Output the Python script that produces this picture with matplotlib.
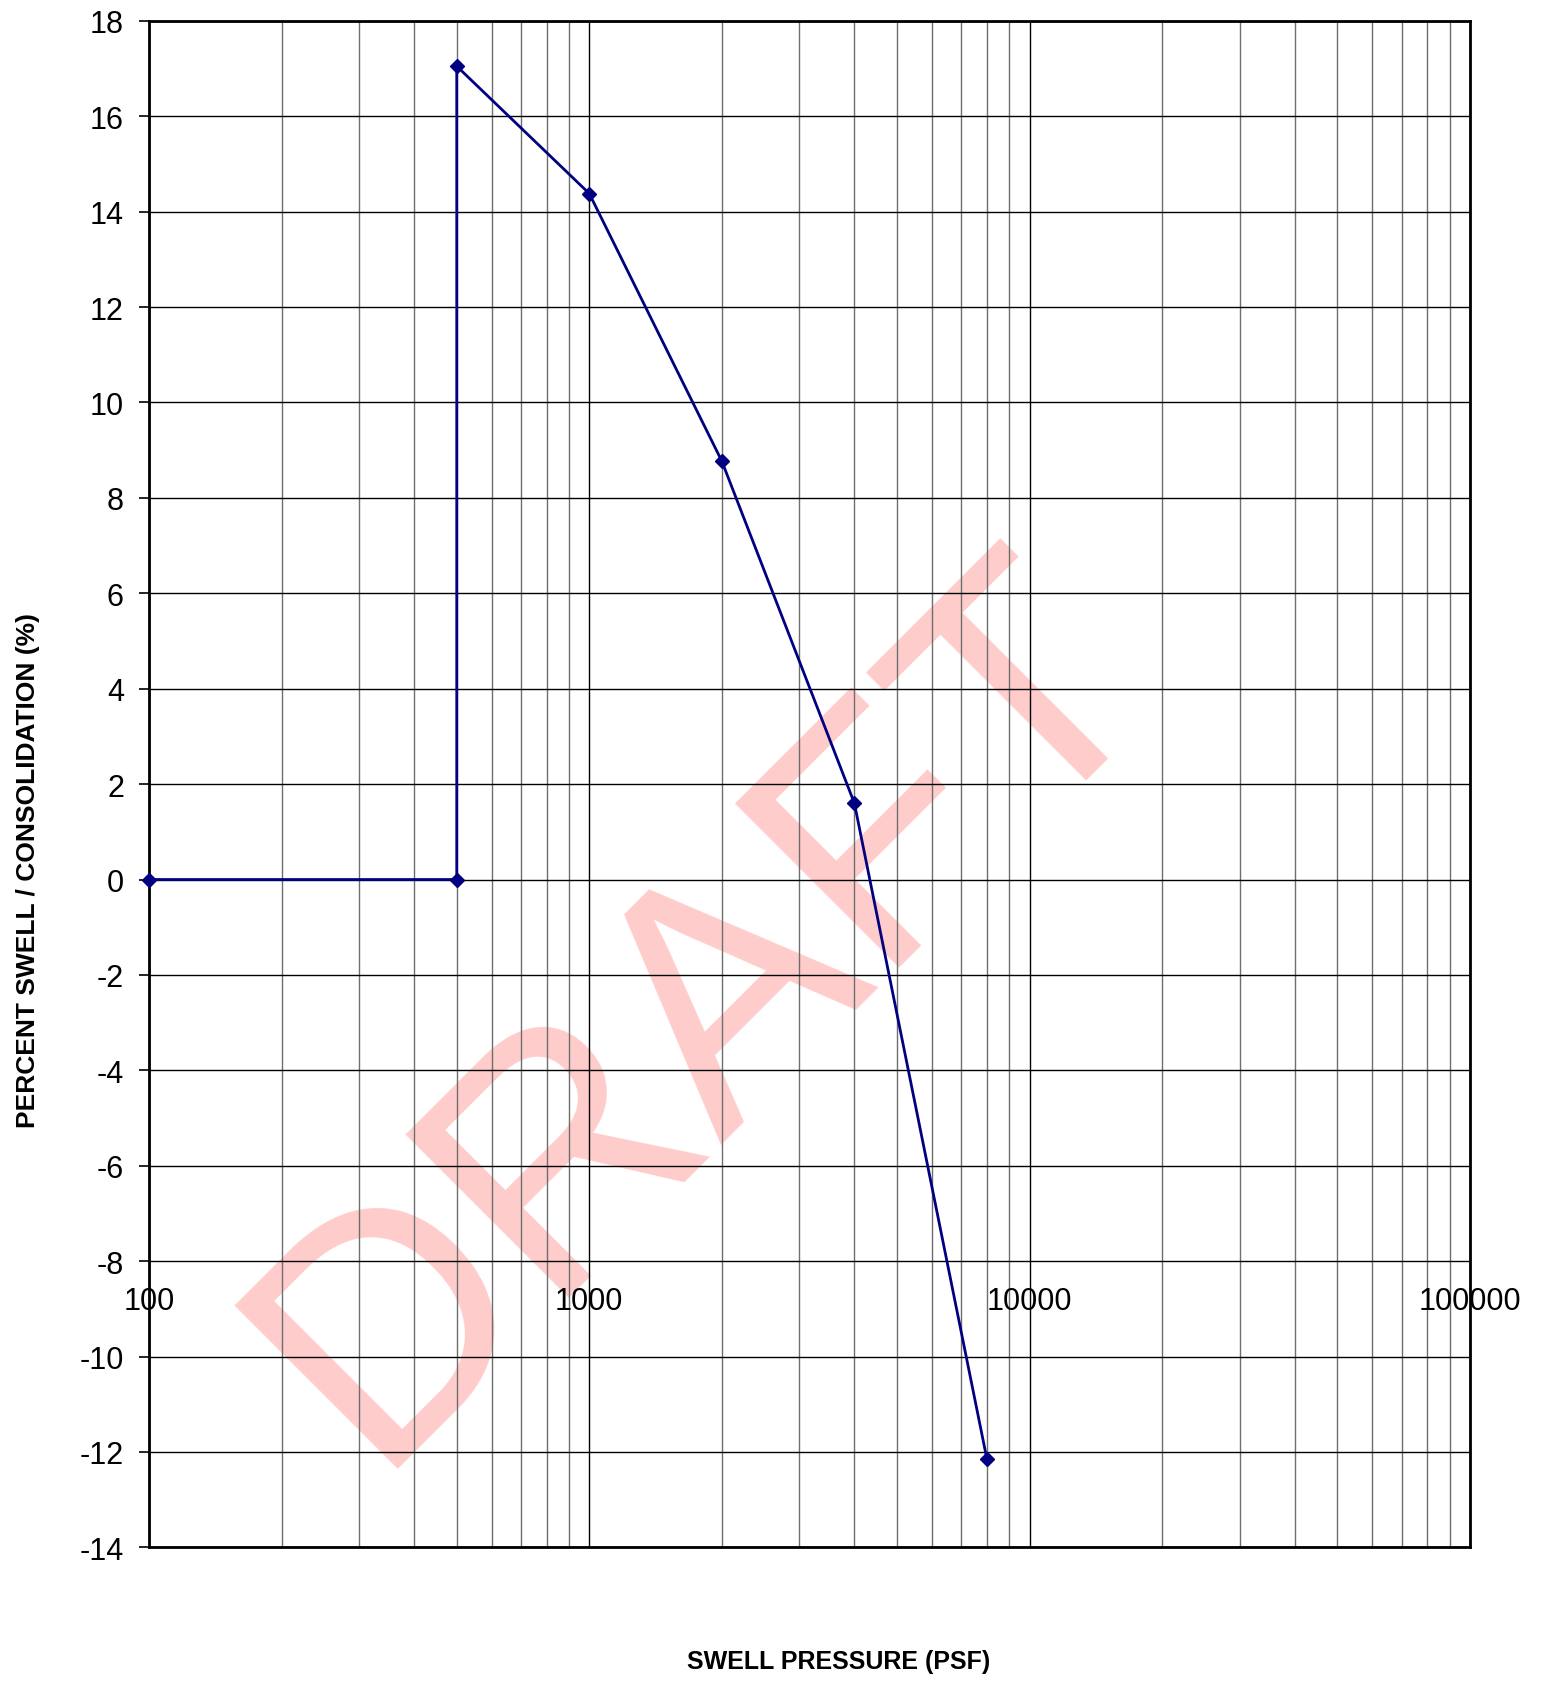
import numpy as np
import matplotlib
matplotlib.use("Agg")
import matplotlib.pyplot as plt
from matplotlib.ticker import LogLocator, NullFormatter, MultipleLocator

# ==================================================
# DATA
# ==================================================

pressure_psf = [100, 500, 500, 1000, 2000, 4000, 8000]
percent_swell = [0.0, 0.0, 17.05, 14.38, 8.77, 1.60, -12.15]

x_tick_values = [100, 1000, 10000, 100000]
x_tick_labels = ["100", "1000", "10000", "100000"]

y_min, y_max, y_step = -14, 18, 2
x_label_row = -8

X_LABEL = "SWELL PRESSURE (PSF)"
Y_LABEL = "PERCENT SWELL / CONSOLIDATION (%)"
WATERMARK = "DRAFT"

LINE_COLOR = "#000080"

plt.rcParams["axes.unicode_minus"] = False

# ==================================================
# FIGURE
# ==================================================

fig = plt.figure(figsize=(15.44, 16.83), dpi=100)
ax = fig.add_axes([0.0965, 0.080, 0.8555, 0.907])

ax.set_xscale("log")
ax.set_xlim(100, 100000)
ax.set_ylim(y_min, y_max)

# grid
ax.xaxis.set_major_locator(LogLocator(base=10))
ax.xaxis.set_minor_locator(LogLocator(base=10, subs=np.arange(2, 10)))
ax.xaxis.set_minor_formatter(NullFormatter())
ax.yaxis.set_major_locator(MultipleLocator(y_step))

ax.grid(True, which="major", axis="both", color="black", linewidth=1.0)
ax.grid(True, which="minor", axis="x", color="#6e6e6e", linewidth=1.0)

# ticks
ax.tick_params(axis="x", which="both", bottom=False, labelbottom=False)
ax.tick_params(axis="y", which="major", direction="out", length=7,
               width=1.2, labelsize=22, pad=11)
for lbl in ax.get_yticklabels():
    lbl.set_fontfamily("Liberation Sans")

for spine in ax.spines.values():
    spine.set_linewidth(2)

# x tick labels sit under the -8 gridline, inside the plot
for xv, xl in zip(x_tick_values, x_tick_labels):
    ax.annotate(
        xl,
        xy=(xv, x_label_row),
        xytext=(0, -18),
        textcoords="offset points",
        ha="center",
        va="top",
        fontsize=22,
        fontfamily="Liberation Sans",
        annotation_clip=False,
        zorder=3
    )

# ==================================================
# WATERMARK
# ==================================================

ax.text(
    0.421, 0.352,
    WATERMARK,
    transform=ax.transAxes,
    rotation=45,
    rotation_mode="anchor",
    ha="center",
    va="center",
    fontsize=242,
    fontfamily="Liberation Sans",
    color="#ffcccc",
    zorder=0.2
)

# ==================================================
# DATA LINE
# ==================================================

ax.plot(
    pressure_psf,
    percent_swell,
    color=LINE_COLOR,
    linewidth=2,
    marker="D",
    markersize=7,
    markerfacecolor=LINE_COLOR,
    markeredgecolor=LINE_COLOR,
    zorder=4,
    clip_on=False
)

# ==================================================
# LABELS
# ==================================================

fig.text(
    0.543, 0.0125,
    X_LABEL,
    ha="center",
    va="center",
    fontsize=18,
    fontweight="bold",
    fontfamily="Liberation Sans"
)

fig.text(
    0.018, 0.483,
    Y_LABEL,
    ha="center",
    va="center",
    rotation=90,
    fontsize=19,
    fontweight="bold",
    fontfamily="Liberation Sans"
)

fig.savefig("out.png", dpi=100)
